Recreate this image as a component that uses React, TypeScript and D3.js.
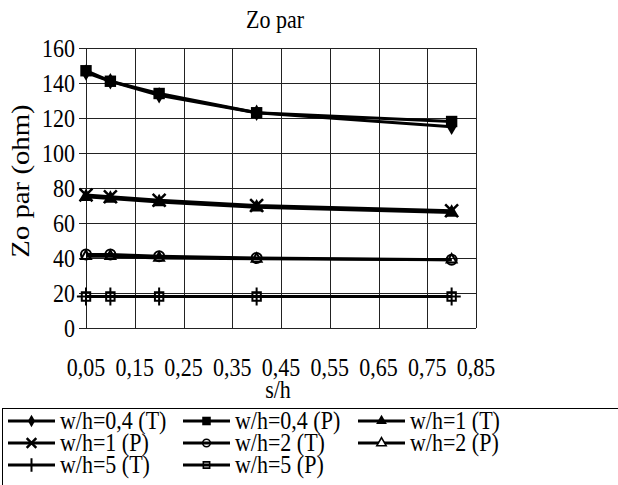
import React from 'react';
import * as d3 from 'd3';

// s/h values (x) and Zo par values (ohm) for each series
const sh = [0.05, 0.1, 0.2, 0.4, 0.8];
const wh04T = [146, 141, 133, 123, 115];
const wh04P = [147, 141, 134, 123, 118];
const wh1T = [75, 74, 72, 69, 66];
const wh1P = [76, 75, 73, 70, 67];
const wh2T = [42, 42, 41, 40, 39];
const wh2P = [41, 41, 40, 39.5, 39];
const wh5T = [18, 18, 18, 18, 18];
const wh5P = [18, 18, 18, 18, 18];

const xTicks = [0.05, 0.15, 0.25, 0.35, 0.45, 0.55, 0.65, 0.75, 0.85];
const yTicks = [0, 20, 40, 60, 80, 100, 120, 140, 160];

type Marker = 'diamond' | 'square' | 'triangle' | 'times' | 'circle' | 'triangleOpen' | 'plus' | 'squareOpen';

const series: { name: string; values: number[]; marker: Marker }[] = [
    { name: 'w/h=0,4 (T)', values: wh04T, marker: 'diamond' },
    { name: 'w/h=0,4 (P)', values: wh04P, marker: 'square' },
    { name: 'w/h=1 (T)', values: wh1T, marker: 'triangle' },
    { name: 'w/h=1 (P)', values: wh1P, marker: 'times' },
    { name: 'w/h=2 (T)', values: wh2T, marker: 'circle' },
    { name: 'w/h=2 (P)', values: wh2P, marker: 'triangleOpen' },
    { name: 'w/h=5 (T)', values: wh5T, marker: 'plus' },
    { name: 'w/h=5 (P)', values: wh5P, marker: 'squareOpen' },
];

// the source picture is a bit taller than wide, so glyphs get stretched vertically
const SY = 1.15;

// serif text, stretched vertically around its baseline point
const Txt: React.FC<{ x: number; y: number; anchor?: string; rotate?: number; size?: number; children: React.ReactNode }> = ({ x, y, anchor = 'start', rotate = 0, size = 22, children }) => (
    <g transform={`translate(${x},${y}) scale(1,${SY}) rotate(${rotate})`}>
        <text x={0} y={0} fontFamily="Liberation Serif" fontSize={size} textAnchor={anchor} fill="#000">{children}</text>
    </g>
);

// draw one marker centred at 0,0 ; k scales it down for the legend
const MarkerShape: React.FC<{ type: Marker; k: number }> = ({ type, k }) => {
    const sym = (t: d3.SymbolType, size: number) => d3.symbol().type(t).size(size * k * k)() || '';
    const sw = k < 1 ? 1.6 : 2;
    switch (type) {
        case 'diamond':
            return <path d={sym(d3.symbolDiamond, 80)} fill="#000" />;
        case 'square':
            return <path d={sym(d3.symbolSquare, 130)} fill="#000" />;
        case 'triangle':
            return <path d={sym(d3.symbolTriangle, 90)} fill="#000" />;
        case 'times':
            return <path d={sym(d3.symbolTimes, 110)} fill="none" stroke="#000" strokeWidth={2.5} />;
        case 'circle':
            return <path d={sym(d3.symbolCircle, 80)} fill="none" stroke="#000" strokeWidth={sw} />;
        case 'triangleOpen':
            return <path d={sym(d3.symbolTriangle2, k < 1 ? 110 : 70)} fill="#fff" fillOpacity={k < 1 ? 1 : 0} stroke="#000" strokeWidth={sw} />;
        case 'plus':
            return <path d={sym(d3.symbolPlus, 110)} fill="none" stroke="#000" strokeWidth={2} />;
        case 'squareOpen':
            return <path d={sym(d3.symbolSquare2, 90)} fill="none" stroke="#000" strokeWidth={sw} />;
    }
};

export default function App() {
    const width = 618;
    const height = 485;

    const x = d3.scaleLinear().domain([0.05, 0.85]).range([86, 476]);
    const y = d3.scaleLinear().domain([0, 160]).range([328, 48]);

    const line = d3.line<number>()
        .x((_, i) => x(sh[i]))
        .y(d => y(d));

    // legend layout
    const legCols = [8, 183, 358];
    const legRows = [421, 443, 465];

    return (
        <svg width={width} height={height} style={{ position: 'absolute', left: 0, top: 0 }}>
            <rect x={0} y={0} width={width} height={height} fill="#fff" />

            {/* title */}
            <Txt x={275} y={28} anchor="middle">Zo par</Txt>

            {/* grid */}
            {yTicks.map(t => (
                <line key={'gy' + t} x1={79} x2={x(0.85)} y1={Math.round(y(t)) + 0.5} y2={Math.round(y(t)) + 0.5} stroke="#222" strokeWidth={1} />
            ))}
            {xTicks.map(t => (
                <line key={'gx' + t} x1={Math.round(x(t)) + 0.5} x2={Math.round(x(t)) + 0.5} y1={y(160)} y2={y(0)} stroke="#222" strokeWidth={1} />
            ))}

            {/* y tick labels */}
            {yTicks.map(t => (
                <Txt key={'ly' + t} x={75} y={y(t) + 8.5} anchor="end">{t}</Txt>
            ))}
            {/* x tick labels */}
            {xTicks.map(t => (
                <Txt key={'lx' + t} x={x(t)} y={376} anchor="middle">{t.toFixed(2).replace('.', ',')}</Txt>
            ))}

            <Txt x={278} y={398} anchor="middle">s/h</Txt>
            <Txt x={29} y={181} anchor="middle" rotate={-90} size={25}>Zo par (ohm)</Txt>

            {/* series */}
            {series.map(s => (
                <g key={s.name}>
                    <path d={line(s.values) || ''} fill="none" stroke="#000" strokeWidth={3} />
                    {s.values.map((v, i) => (
                        <g key={i} transform={`translate(${x(sh[i])},${y(v)})`}>
                            <MarkerShape type={s.marker} k={1} />
                        </g>
                    ))}
                </g>
            ))}

            {/* legend */}
            <rect x={2.5} y={408.5} width={640} height={100} fill="none" stroke="#000" strokeWidth={1} />
            {series.map((s, i) => {
                const cx = legCols[i % 3];
                const cy = legRows[Math.floor(i / 3)];
                return (
                    <g key={'leg' + s.name}>
                        <line x1={cx} x2={cx + 47} y1={cy} y2={cy} stroke="#000" strokeWidth={3} />
                        <g transform={`translate(${cx + 23.5},${cy})`}>
                            <MarkerShape type={s.marker} k={0.75} />
                        </g>
                        <Txt x={cx + 52} y={cy + 8}>{s.name}</Txt>
                    </g>
                );
            })}
        </svg>
    );
}
